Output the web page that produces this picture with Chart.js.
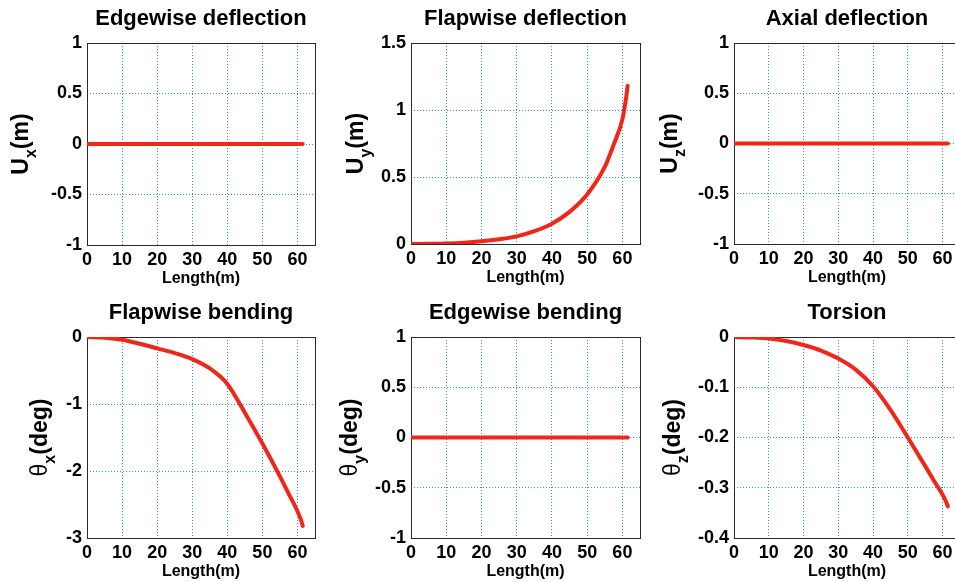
<!DOCTYPE html>
<html>
<head>
<meta charset="utf-8">
<script src="https://cdn.jsdelivr.net/npm/chart.js@4.4.1/dist/chart.umd.min.js"></script>
<style>
  body { margin: 0; background: #fff; width: 955px; height: 582px; overflow: hidden; position: relative; }
  canvas { position: absolute; }
</style>
</head>
<body>
<canvas id="edgeDefl"></canvas>
<canvas id="flapDefl"></canvas>
<canvas id="axialDefl"></canvas>
<canvas id="flapBend"></canvas>
<canvas id="edgeBend"></canvas>
<canvas id="torsion"></canvas>
<script>
// blade length positions (m)
const lengthX = [0, 5, 10, 15, 20, 25, 30, 35, 40, 45, 50, 55, 57.5, 60, 61, 61.5];

const edgeDeflValues  = [0, 0, 0, 0, 0, 0, 0, 0, 0, 0, 0, 0, 0, 0, 0, 0];
const flapDeflValues  = [0, 0.001, 0.004, 0.01, 0.02, 0.035, 0.057, 0.096, 0.152, 0.24, 0.37, 0.575, 0.74, 0.93, 1.08, 1.18];
const axialDeflValues = [0, 0, 0, 0, 0, 0, 0, 0, 0, 0, 0, 0, 0, 0, 0, 0];
const flapBendValues  = [0, -0.01, -0.04, -0.1, -0.17, -0.24, -0.33, -0.47, -0.7, -1.13, -1.59, -2.08, -2.34, -2.6, -2.73, -2.82];
const edgeBendValues  = [0, 0, 0, 0, 0, 0, 0, 0, 0, 0, 0, 0, 0, 0, 0, 0];
const torsionValues   = [0, -0.001, -0.003, -0.008, -0.016, -0.027, -0.043, -0.065, -0.098, -0.145, -0.2, -0.257, -0.286, -0.314, -0.328, -0.337];

const xTicks = [0, 10, 20, 30, 40, 50, 60];
const unitTicks = [-1, -0.5, 0, 0.5, 1];
const flapDeflTicks = [0, 0.5, 1, 1.5];
const flapBendTicks = [-3, -2, -1, 0];
const torsionTicks = [-0.4, -0.3, -0.2, -0.1, 0];

const titles = ["Edgewise deflection", "Flapwise deflection", "Axial deflection",
                "Flapwise bending", "Edgewise bending", "Torsion"];

Chart.defaults.font.family = '"Liberation Sans", Arial, sans-serif';
Chart.defaults.color = '#000';

const FONT = '"Liberation Sans", Arial, sans-serif';
const GRID = 'rgb(40, 150, 215)';

// frame around plot + y label with subscript
const frameLabel = {
  id: 'frameLabel',
  beforeDatasetsDraw(chart, args, opts) {
    const a = chart.chartArea, ctx = chart.ctx;
    ctx.save();
    ctx.strokeStyle = '#2a2a2a';
    ctx.lineWidth = 1;
    ctx.setLineDash([]);
    ctx.strokeRect(Math.round(a.left) + 0.5, Math.round(a.top) + 0.5,
                   Math.round(a.right) - Math.round(a.left), Math.round(a.bottom) - Math.round(a.top));
    ctx.restore();
  },
  afterDraw(chart, args, opts) {
    const a = chart.chartArea, ctx = chart.ctx;
    const mainFont = (opts.greek ? 'normal ' : 'bold ') + '23px ' + FONT;
    const subFont = 'bold 16px ' + FONT;
    const restFont = 'bold 23px ' + FONT;
    ctx.save();
    ctx.translate(a.left - opts.offset, (a.top + a.bottom) / 2);
    ctx.rotate(-Math.PI / 2);
    ctx.fillStyle = '#000';
    ctx.textBaseline = 'alphabetic';
    ctx.textAlign = 'left';
    ctx.font = mainFont; const w1 = ctx.measureText(opts.main).width;
    ctx.font = subFont; const w2 = ctx.measureText(opts.sub).width;
    ctx.font = restFont; const w3 = ctx.measureText(opts.rest).width;
    let x = -(w1 + w2 + w3) / 2;
    ctx.font = mainFont; ctx.fillText(opts.main, x, 0); x += w1;
    ctx.font = subFont; ctx.fillText(opts.sub, x, 8); x += w2;
    ctx.font = restFont; ctx.fillText(opts.rest, x, 0);
    ctx.restore();
  }
};

function drawPanel(id, rect, title, values, yTicks, label) {
  const yAxisW = 80, xAxisH = 43, titleH = 43, padR = 3;
  const canvas = document.getElementById(id);
  const left = Math.round(rect[0] - yAxisW);
  const top = Math.round(rect[1] - titleH);
  canvas.style.left = left + 'px';
  canvas.style.top = top + 'px';
  canvas.width = Math.round(yAxisW + rect[2] + padR);
  canvas.height = Math.round(titleH + rect[3] + xAxisH);

  new Chart(canvas, {
    type: 'line',
    data: {
      labels: lengthX,
      datasets: [{
        data: lengthX.map((x, i) => ({ x: x, y: values[i] })),
        borderColor: 'rgb(240, 38, 24)',
        borderWidth: 4,
        pointRadius: 0,
        cubicInterpolationMode: 'monotone',
        borderCapStyle: 'round',
      }],
    },
    options: {
      responsive: false,
      animation: false,
      layout: { padding: { left: 0, right: padR, top: 0, bottom: 0 } },
      plugins: {
        legend: { display: false },
        tooltip: { enabled: false },
        title: {
          display: true,
          text: title,
          fullSize: false,
          color: '#000',
          font: { size: 22, weight: 'bold' },
          padding: { top: 6, bottom: 10.6 },
        },
        frameLabel: label,
      },
      scales: {
        x: {
          type: 'linear',
          min: 0,
          max: 65,
          afterBuildTicks: (axis) => { axis.ticks = xTicks.map(v => ({ value: v })); },
          afterFit: (axis) => { axis.height = xAxisH; },
          ticks: { font: { size: 18, weight: 'bold' }, padding: 4, maxRotation: 0, callback: v => String(v) },
          grid: { color: GRID, lineWidth: 1, drawTicks: false },
          border: { display: false, dash: [1, 2] },
          title: { display: true, text: 'Length(m)', font: { size: 16, weight: 'bold' }, padding: { top: 0, bottom: 0 } },
        },
        y: {
          min: yTicks[0],
          max: yTicks[yTicks.length - 1],
          afterBuildTicks: (axis) => { axis.ticks = yTicks.map(v => ({ value: v })); },
          afterFit: (axis) => { axis.width = yAxisW; },
          ticks: { font: { size: 18, weight: 'bold' }, padding: 5, callback: v => String(v) },
          grid: { color: GRID, lineWidth: 1, drawTicks: false },
          border: { display: false, dash: [1, 2] },
        },
      },
    },
    plugins: [frameLabel],
  });
}

// plot rectangles: [left, top, width, height]
drawPanel('edgeDefl',  [87, 43, 227.5, 202],  titles[0], edgeDeflValues,  unitTicks,     { main: 'U', sub: 'x', rest: '(m)', offset: 59 });
drawPanel('flapDefl',  [411, 43, 228.5, 201], titles[1], flapDeflValues,  flapDeflTicks, { main: 'U', sub: 'y', rest: '(m)', offset: 48 });
drawPanel('axialDefl', [734, 43, 225.5, 201], titles[2], axialDeflValues, unitTicks,     { main: 'U', sub: 'z', rest: '(m)', offset: 57 });
drawPanel('flapBend',  [87, 337, 227.5, 201], titles[3], flapBendValues,  flapBendTicks, { main: 'θ', sub: 'x', rest: '(deg)', greek: true, offset: 40 });
drawPanel('edgeBend',  [411, 337, 228.5, 201], titles[4], edgeBendValues, unitTicks,     { main: 'θ', sub: 'y', rest: '(deg)', greek: true, offset: 54 });
drawPanel('torsion',   [734, 337, 225.5, 201], titles[5], torsionValues,  torsionTicks,  { main: 'θ', sub: 'z', rest: '(deg)', greek: true, offset: 54 });
</script>
</body>
</html>
